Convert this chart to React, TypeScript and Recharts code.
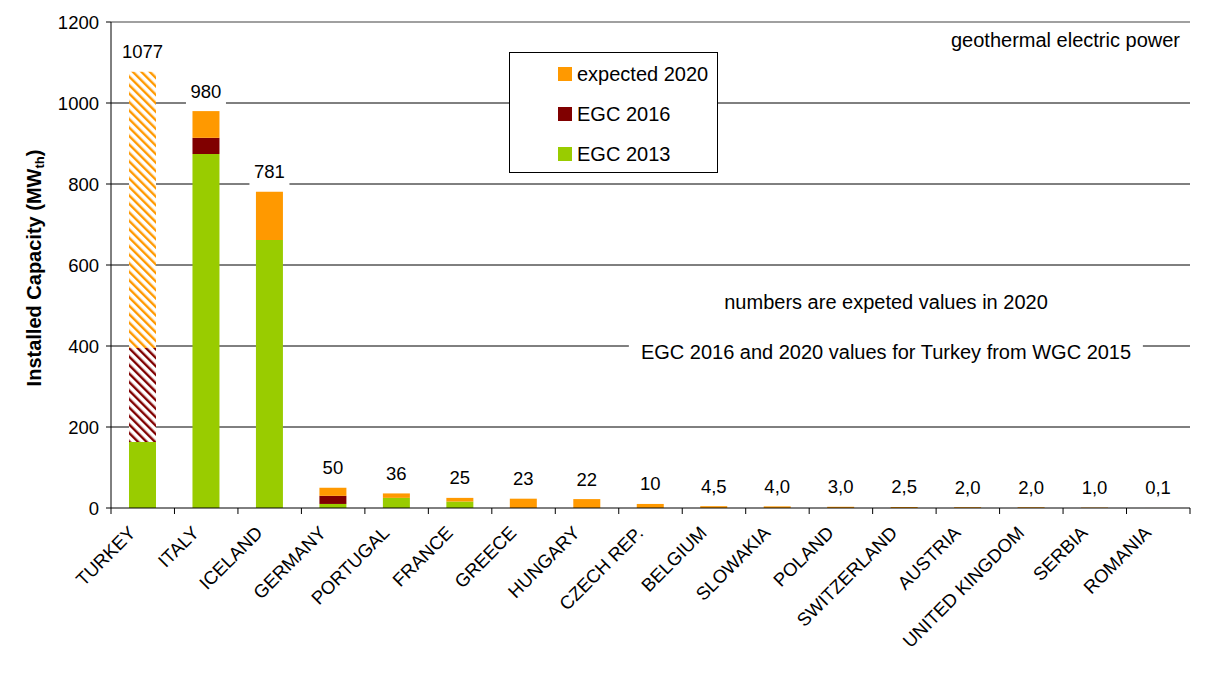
// Geothermal electric power by country, stacked EGC 2013 / EGC 2016 / expected 2020.
// Excel-style look: boundary ticks, rotated country names, boxed legend.

import { Bar, BarChart, CartesianGrid, Cell, LabelList, ReferenceLine, XAxis, YAxis } from 'recharts';

const countries = [
  'TURKEY', 'ITALY', 'ICELAND', 'GERMANY', 'PORTUGAL', 'FRANCE', 'GREECE', 'HUNGARY',
  'CZECH REP.', 'BELGIUM', 'SLOWAKIA', 'POLAND', 'SWITZERLAND', 'AUSTRIA',
  'UNITED KINGDOM', 'SERBIA', 'ROMANIA',
];
const egc2013 = [163, 874, 662, 10, 25, 16, 0, 0, 0, 0, 0, 0, 0, 0, 0, 0, 0];
const egc2016 = [232, 40, 0, 20, 0, 0, 0, 0, 0, 0, 0, 0, 0, 0, 0, 0, 0];
const expected2020 = [682, 66, 119, 20, 11, 9, 23, 22, 10, 4.5, 4, 3, 2.5, 2, 2, 1, 0.1];
const totalLabels = ['1077', '980', '781', '50', '36', '25', '23', '22', '10', '4,5', '4,0', '3,0', '2,5', '2,0', '2,0', '1,0', '0,1'];
const yTicks = [0, 200, 400, 600, 800, 1000, 1200];
const gridValues = [200, 400, 600, 800, 1000];

const legendItems = [
  { name: 'expected 2020', color: '#FF9900' },
  { name: 'EGC 2016', color: '#800000' },
  { name: 'EGC 2013', color: '#99CC00' },
];

const data = countries.map((c, i) => ({
  country: c,
  egc2013: egc2013[i],
  egc2016: egc2016[i],
  expected2020: expected2020[i],
  label: totalLabels[i],
}));

const FONT = '"Liberation Sans", Arial, sans-serif';
const W = 1220;
const H = 674;
const MARGIN = { top: 22, right: 30, bottom: 0, left: 0 };
const Y_AXIS_W = 111;
const BAND = (W - MARGIN.left - MARGIN.right - Y_AXIS_W) / countries.length;

function CountryTick(props: any) {
  const { x, y, payload, index } = props;
  const left = x - BAND / 2;
  const ax = x - 6;
  const ay = y + 26;
  const isLast = index === countries.length - 1 || payload.value === countries[countries.length - 1];
  return (
    <g>
      <line x1={left} x2={left} y1={y} y2={y + 6} stroke="#000" />
      {isLast && <line x1={x + BAND / 2} x2={x + BAND / 2} y1={y} y2={y + 6} stroke="#000" />}
      <text
        x={ax}
        y={ay}
        textAnchor="end"
        transform={`rotate(-45 ${ax} ${ay})`}
        fontSize={18.5}
        fontFamily={FONT}
        fill="#000"
      >
        {payload.value}
      </text>
    </g>
  );
}

function TotalLabel(props: any) {
  const { x, y, width, index } = props;
  const text = totalLabels[index];
  const cx = x + width / 2;
  const cy = y - 20;
  const bw = text.length * 10 + 10;
  return (
    <g>
      <rect x={cx - bw / 2} y={cy - 13} width={bw} height={27} fill="#fff" />
      <text x={cx} y={cy} dy="0.35em" textAnchor="middle" fontSize={18.5} fontFamily={FONT} fill="#000">
        {text}
      </text>
    </g>
  );
}

function YTitle() {
  return (
    <text
      x={41}
      y={268}
      transform="rotate(-90 41 268)"
      textAnchor="middle"
      fontSize={20}
      fontWeight="bold"
      fontFamily={FONT}
      fill="#000"
    >
      Installed Capacity (MW
      <tspan fontSize={13} dy={3}>th</tspan>
      <tspan dy={-3}>)</tspan>
    </text>
  );
}

export default function App() {
  return (
    <div style={{ position: 'absolute', left: 0, top: 0, width: W, height: H, background: '#fff', fontFamily: FONT }}>
      <BarChart width={W} height={H} data={data} margin={MARGIN} barSize={27}>
        <defs>
          <pattern id="hatch-orange" width="6" height="6" patternUnits="userSpaceOnUse" patternTransform="rotate(-45)">
            <rect width="6" height="6" fill="#fff" />
            <rect width="2.4" height="6" fill="#FF9900" />
          </pattern>
          <pattern id="hatch-maroon" width="6" height="6" patternUnits="userSpaceOnUse" patternTransform="rotate(-45)">
            <rect width="6" height="6" fill="#fff" />
            <rect width="2.4" height="6" fill="#800000" />
          </pattern>
        </defs>
        <CartesianGrid horizontal vertical={false} stroke="#000" horizontalValues={gridValues} />
        <ReferenceLine y={1200} stroke="#808080" strokeWidth={1.5} />
        <XAxis
          dataKey="country"
          interval={0}
          height={166}
          tickSize={0}
          tickMargin={0}
          tickLine={false}
          axisLine={{ stroke: '#000' }}
          tick={<CountryTick />}
        />
        <YAxis
          domain={[0, 1200]}
          ticks={yTicks}
          width={Y_AXIS_W}
          tickSize={5}
          tickMargin={7}
          axisLine={{ stroke: '#000' }}
          tickLine={{ stroke: '#000' }}
          tick={{ fill: '#000', fontSize: 18.5, fontFamily: FONT }}
          label={<YTitle />}
        />
        <YAxis yAxisId="frame" orientation="right" width={0} tick={false} tickLine={false} axisLine={{ stroke: '#000' }} />
        <Bar dataKey="egc2013" stackId="a" fill="#99CC00" isAnimationActive={false} />
        <Bar dataKey="egc2016" stackId="a" fill="#800000" isAnimationActive={false}>
          {data.map((d, i) => (
            <Cell key={d.country} fill={i === 0 ? 'url(#hatch-maroon)' : '#800000'} />
          ))}
        </Bar>
        <Bar dataKey="expected2020" stackId="a" fill="#FF9900" isAnimationActive={false}>
          {data.map((d, i) => (
            <Cell key={d.country} fill={i === 0 ? 'url(#hatch-orange)' : '#FF9900'} />
          ))}
          <LabelList dataKey="label" content={<TotalLabel />} />
        </Bar>
      </BarChart>

      <div
        style={{
          position: 'absolute',
          left: 509,
          top: 52,
          width: 209,
          height: 121,
          boxSizing: 'border-box',
          border: '1.5px solid #000',
          background: '#fff',
        }}
      >
        {legendItems.map((item, i) => (
          <div
            key={item.name}
            style={{
              position: 'absolute',
              left: 48,
              top: 21 + i * 40 - 12,
              height: 24,
              display: 'flex',
              alignItems: 'center',
              fontSize: 20,
              color: '#000',
              whiteSpace: 'nowrap',
            }}
          >
            <span style={{ display: 'inline-block', width: 14, height: 14, background: item.color, marginRight: 5 }} />
            {item.name}
          </div>
        ))}
      </div>

      <div style={{ position: 'absolute', right: 40, top: 29, fontSize: 20, color: '#000', whiteSpace: 'nowrap' }}>
        geothermal electric power
      </div>
      <div
        style={{
          position: 'absolute',
          left: 886,
          top: 302,
          transform: 'translate(-50%, -50%)',
          fontSize: 20,
          color: '#000',
          whiteSpace: 'nowrap',
        }}
      >
        numbers are expeted values in 2020
      </div>
      <div
        style={{
          position: 'absolute',
          left: 886,
          top: 352,
          transform: 'translate(-50%, -50%)',
          fontSize: 20,
          color: '#000',
          whiteSpace: 'nowrap',
          background: '#fff',
          padding: '1px 12px',
        }}
      >
        EGC 2016 and 2020 values for Turkey from WGC 2015
      </div>
    </div>
  );
}
